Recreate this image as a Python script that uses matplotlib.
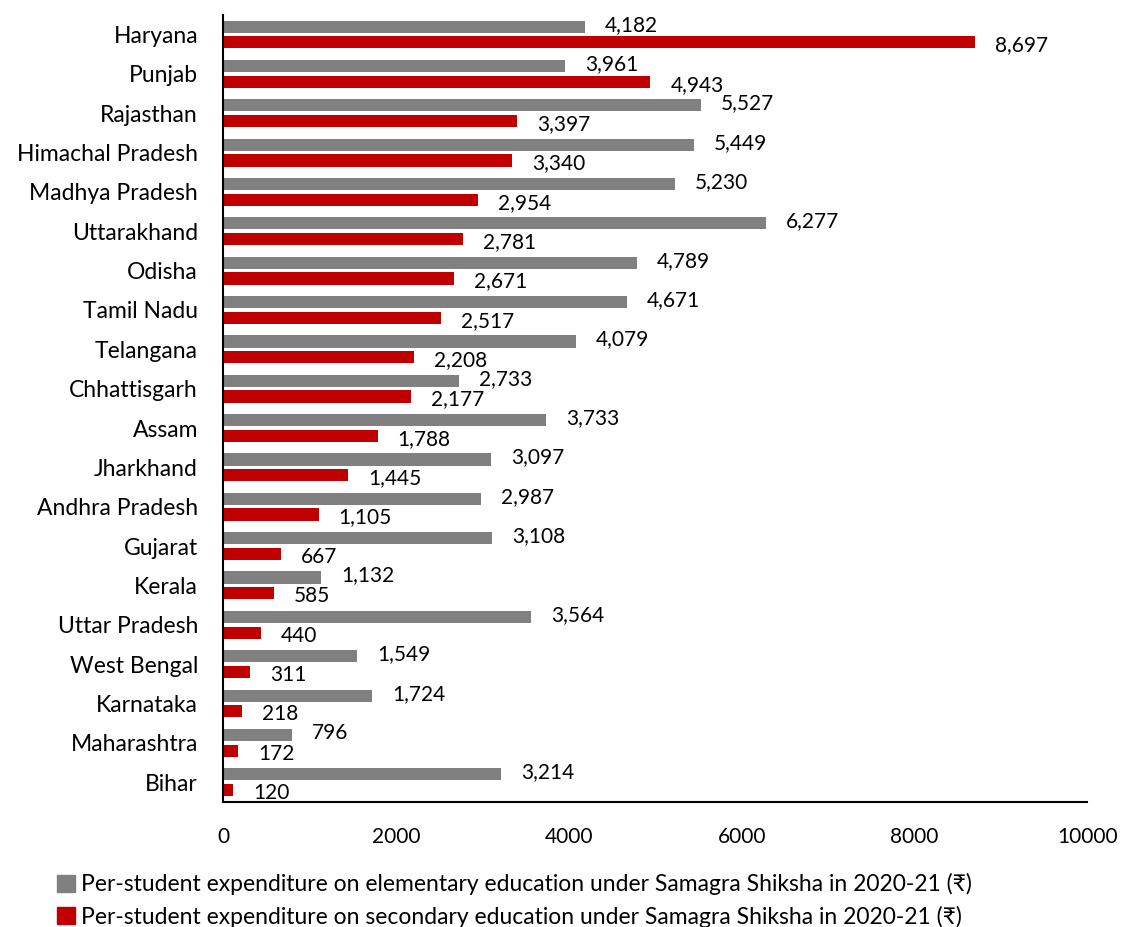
import matplotlib
matplotlib.use('Agg')
import matplotlib.pyplot as plt
import matplotlib.patches as mpatches
import numpy as np

#%% Data
states = ['Haryana', 'Punjab', 'Rajasthan', 'Himachal Pradesh', 'Madhya Pradesh',
          'Uttarakhand', 'Odisha', 'Tamil Nadu', 'Telangana', 'Chhattisgarh',
          'Assam', 'Jharkhand', 'Andhra Pradesh', 'Gujarat', 'Kerala',
          'Uttar Pradesh', 'West Bengal', 'Karnataka', 'Maharashtra', 'Bihar']
elementary = [4182, 3961, 5527, 5449, 5230, 6277, 4789, 4671, 4079, 2733,
              3733, 3097, 2987, 3108, 1132, 3564, 1549, 1724, 796, 3214]
secondary = [8697, 4943, 3397, 3340, 2954, 2781, 2671, 2517, 2208, 2177,
             1788, 1445, 1105, 667, 585, 440, 311, 218, 172, 120]
x_ticks = [0, 2000, 4000, 6000, 8000, 10000]
leg_labels = ['Per-student expenditure on elementary education under Samagra Shiksha in 2020-21 (\u20b9)',
              'Per-student expenditure on secondary education under Samagra Shiksha in 2020-21 (\u20b9)']

#%% Figure settings
plt.rcParams['font.family'] = ['Lato', 'DejaVu Sans']
plt.rcParams['font.size'] = 15
grey = '#808080'
red = '#c00000'

fig = plt.figure(figsize=(11.21, 9.27), dpi=100)
ax = fig.add_axes([0.199, 0.135, 0.771, 0.849])

y = np.arange(len(states))
bh = 0.31
ax.barh(y - 0.2, elementary, height=bh, color=grey)
ax.barh(y + 0.2, secondary, height=bh, color=red)

for yi, v in zip(y, elementary):
    ax.annotate(f'{v:,}', (v, yi - 0.2), xytext=(20, 2), textcoords='offset pixels',
                ha='left', va='center', fontsize=15)
for yi, v in zip(y, secondary):
    ax.annotate(f'{v:,}', (v, yi + 0.2), xytext=(20, -3), textcoords='offset pixels',
                ha='left', va='center', fontsize=15)

ax.set_ylim(len(states) - 0.5, -0.5)
ax.set_xlim(0, 10000)
ax.set_yticks(y)
ax.set_yticklabels(states, fontsize=16.5)
ax.set_xticks(x_ticks)
ax.set_xticklabels([str(t) for t in x_ticks], fontsize=15)
ax.tick_params(axis='both', length=0)
ax.tick_params(axis='x', pad=18)
ax.tick_params(axis='y', pad=18)
ax.spines['top'].set_visible(False)
ax.spines['right'].set_visible(False)
ax.spines['left'].set_color('black')
ax.spines['bottom'].set_color('black')
ax.spines['left'].set_linewidth(1.5)
ax.spines['bottom'].set_linewidth(1.5)

handles = [mpatches.Patch(color=grey), mpatches.Patch(color=red)]
fig.legend(handles, leg_labels, loc='upper left', bbox_to_anchor=(0.043, 0.068),
           frameon=False, handlelength=0.75, handleheight=0.75, handletextpad=0.3,
           labelspacing=0.45, fontsize=16.5, borderaxespad=0)

fig.savefig('out.png', dpi=100)
